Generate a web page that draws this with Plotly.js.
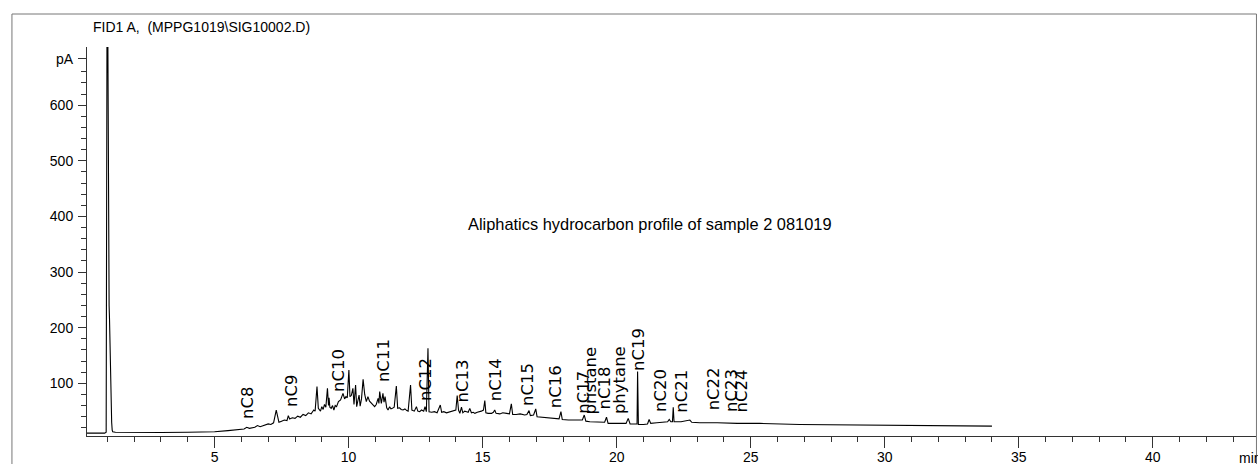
<!DOCTYPE html>
<html>
<head>
<meta charset="utf-8">
<script src="https://cdn.plot.ly/plotly-3.0.1.min.js"></script>
<style>
  html, body { margin: 0; padding: 0; background: #fff; }
  #chart { width: 1258px; height: 464px; }
</style>
</head>
<body>
<div id="chart"></div>
<script>
// FID1 A detector signal: retention time (min) and response (pA)
const retentionTime = [
  0.24, 0.90, 0.955, 0.975, 0.99, 1.005, 1.02, 1.035, 1.05, 1.065, 1.08, 1.10, 1.12, 1.14, 1.16, 1.18, 1.20, 1.30,
  2.0, 3.0, 4.0, 4.5, 5.0, 5.5, 5.9, 6.1, 6.2, 6.3, 6.5, 6.6, 6.7, 6.9, 7.0, 7.1, 7.2, 7.3, 7.36, 7.4, 7.5, 7.6,
  7.7, 7.75, 7.8, 7.9, 8.0, 8.1, 8.2, 8.3, 8.4, 8.5, 8.6, 8.7, 8.75, 8.82, 8.87, 8.95, 9.0, 9.05, 9.1, 9.15,
  9.21, 9.25, 9.27, 9.3, 9.35, 9.4, 9.45, 9.5, 9.55, 9.62, 9.7, 9.79, 9.85, 9.9, 9.95, 10.01, 10.05, 10.1, 10.16, 10.2,
  10.26, 10.3, 10.35, 10.39, 10.43, 10.48, 10.54, 10.6, 10.66, 10.72, 10.78, 10.85, 10.92, 10.97, 11.03, 11.1, 11.13, 11.16, 11.22, 11.28,
  11.32, 11.36, 11.42, 11.47, 11.53, 11.58, 11.63, 11.7, 11.78, 11.83, 11.9, 11.96, 12.03, 12.1, 12.17, 12.22, 12.31, 12.36, 12.45, 12.53,
  12.58, 12.65, 12.72, 12.8, 12.85, 12.9, 12.96, 13.0, 13.1, 13.2, 13.3, 13.42, 13.47, 13.55, 13.65, 13.77, 13.9, 14.0, 14.05, 14.1,
  14.15, 14.21, 14.26, 14.33, 14.4, 14.46, 14.52, 14.58, 14.65, 14.71, 14.8, 14.89, 14.95, 15.03, 15.08, 15.12, 15.2, 15.33, 15.4, 15.45,
  15.5, 15.64, 15.75, 15.89, 16.0, 16.07, 16.12, 16.25, 16.4, 16.57, 16.65, 16.73, 16.78, 16.9, 16.98, 17.03, 17.2, 17.4, 17.69, 17.85,
  17.92, 17.97, 18.2, 18.4, 18.62, 18.72, 18.79, 18.85, 19.0, 19.37, 19.55, 19.62, 19.68, 19.9, 20.12, 20.35, 20.43, 20.5, 20.7, 20.76,
  20.78, 20.81, 21.0, 21.15, 21.21, 21.27, 21.5, 21.8, 21.9, 21.96, 22.02, 22.08, 22.11, 22.14, 22.4, 22.73, 22.8, 23.1, 23.6, 23.66,
  23.75, 24.5, 25.34, 26.83, 28.5, 29.82, 31.5, 32.81, 34.0
];
const signalPA = [
  10.5, 10.5, 12, 800, 1200, 1200, 700, 400, 300, 240, 215, 150, 70, 55, 30, 16, 13, 12,
  11.5, 11.5, 12, 12.5, 13, 15, 17, 18, 21, 19, 21, 24, 22, 25, 27, 26, 29, 52, 36, 30, 32, 34,
  33, 42, 36, 38, 37, 41, 39, 44, 42, 47, 45, 52, 50, 94, 55, 50, 58, 53, 62, 57,
  91, 60, 74, 57, 55, 60, 52, 60, 58, 67, 70, 82, 72, 76, 74, 124, 76, 78, 91, 62,
  97, 58, 70, 79, 59, 72, 107, 80, 67, 76, 68, 64, 60, 58, 62, 73, 64, 85, 64, 82,
  66, 76, 56, 52, 58, 54, 55, 57, 95, 55, 56, 53, 52, 54, 51, 50, 97, 52, 50, 58,
  50, 49, 52, 50, 58, 49, 163, 49, 48, 49, 47, 61, 48, 49, 47, 49, 50, 52, 78, 52,
  46, 57, 47, 50, 49, 48, 55, 47, 48, 46, 48, 49, 50, 52, 69, 47, 46, 46, 48, 52,
  46, 45, 47, 46, 45, 63, 44, 44, 45, 43, 44, 51, 42, 43, 54, 40, 39, 38, 37, 36,
  49, 35, 34, 34, 33, 34, 43, 32, 31, 31, 30, 39, 28, 28, 28, 28, 37, 27, 27, 27,
  121, 26, 26, 27, 35, 28, 29, 30, 31, 35, 31, 31, 57, 31, 31, 34, 30, 29, 29, 30,
  29, 28, 28, 26, 25, 24.5, 23.5, 23, 23
];

// Identified compounds: name, retention time (min) and peak-top response (pA)
const peakNames = ["nC8", "nC9", "nC10", "nC11", "nC12", "nC13", "nC14", "nC15", "nC16", "nC17",
  "pristane", "nC18", "phytane", "nC19", "nC20", "nC21", "nC22", "nC23", "nC24"];
const peakTimes = [6.21, 7.87, 9.65, 11.33, 12.84, 14.25, 15.46, 16.70, 17.75, 18.75,
  19.02, 19.56, 20.09, 20.79, 21.66, 22.43, 23.60, 24.31, 24.66];
const peakHeights = [34, 55, 82, 100, 67, 64, 67, 57, 53, 43,
  43, 52, 43, 121, 46, 46, 49, 46, 46];

// Axis ticks
const xTickVals = [5, 10, 15, 20, 25, 30, 35, 40];
const xMinorVals = [1, 2, 3, 4, 6, 7, 8, 9, 11, 12, 13, 14, 16, 17, 18, 19, 21, 22, 23, 24,
  26, 27, 28, 29, 31, 32, 33, 34, 36, 37, 38, 39, 41, 42, 43];
const yTickVals = [100, 200, 300, 400, 500, 600, 683];
const yTickText = ["100", "200", "300", "400", "500", "600", "pA"];
const yMinorVals = [20, 40, 60, 80, 120, 140, 160, 180, 220, 240, 260, 280, 320, 340, 360, 380,
  420, 440, 460, 480, 520, 540, 560, 580, 620, 640, 660];

const signalTitle = "FID1 A,\u00a0\u00a0(MPPG1019\\SIG10002.D)";
const sampleNote = "Aliphatics hydrocarbon profile of sample 2 081019";

const sans = "'Liberation Sans', Arial, sans-serif";
const labelFont = "'DejaVu Sans', 'Liberation Sans', sans-serif";

const trace = {
  x: retentionTime,
  y: signalPA,
  type: "scatter",
  mode: "lines",
  line: { color: "#000", width: 1.1 },
  hoverinfo: "skip"
};

const annotations = peakNames.map((name, i) => ({
  x: peakTimes[i], y: peakHeights[i], xref: "x", yref: "y",
  text: name, showarrow: false, textangle: -90,
  xanchor: "center", yanchor: "bottom", borderpad: 0,
  font: { family: labelFont, size: 16.5, color: "#000" }
}));

annotations.push({
  x: 0.0034, y: 1.0514, xref: "paper", yref: "paper",
  text: signalTitle, showarrow: false, xanchor: "left", yanchor: "middle",
  font: { family: sans, size: 14, color: "#000" }
});
annotations.push({
  x: 0.4816, y: 0.545, xref: "paper", yref: "paper",
  text: sampleNote, showarrow: false, xanchor: "center", yanchor: "middle",
  font: { family: sans, size: 16.4, color: "#000" }
});
annotations.push({
  x: 0.9837, y: -0.0553, xref: "paper", yref: "paper",
  text: "min", showarrow: false, xanchor: "left", yanchor: "middle",
  font: { family: sans, size: 14, color: "#000" }
});

const layout = {
  width: 1258,
  height: 464,
  margin: { l: 87, r: 2, t: 47, b: 28, pad: 0 },
  paper_bgcolor: "#fff",
  plot_bgcolor: "#fff",
  showlegend: false,
  xaxis: {
    range: [0.24, 43.85],
    showgrid: false, zeroline: false,
    showline: true, linecolor: "#333", linewidth: 1,
    tickmode: "array", tickvals: xTickVals,
    ticks: "outside", ticklen: 11, tickcolor: "#333", tickwidth: 1,
    ticklabelstandoff: -3,
    tickfont: { family: sans, size: 14, color: "#000" },
    minor: { tickmode: "array", tickvals: xMinorVals, ticks: "outside", ticklen: 5, tickcolor: "#333", showgrid: false }
  },
  yaxis: {
    range: [5.3, 704.5],
    showgrid: false, zeroline: false,
    showline: true, linecolor: "#333", linewidth: 1,
    tickmode: "array", tickvals: yTickVals, ticktext: yTickText,
    ticks: "outside", ticklen: 8, tickcolor: "#333", tickwidth: 1,
    ticklabelstandoff: 2,
    tickfont: { family: sans, size: 14, color: "#000" },
    minor: { tickmode: "array", tickvals: yMinorVals, ticks: "outside", ticklen: 5, tickcolor: "#333", showgrid: false }
  },
  shapes: [{
    type: "rect", xref: "paper", yref: "paper",
    x0: -0.0642, x1: 1.0004, y0: -0.2, y1: 1.0848,
    line: { color: "#777", width: 1 }, fillcolor: "rgba(0,0,0,0)", layer: "above"
  }],
  annotations: annotations
};

Plotly.newPlot("chart", [trace], layout, { displayModeBar: false, staticPlot: true });
</script>
</body>
</html>
